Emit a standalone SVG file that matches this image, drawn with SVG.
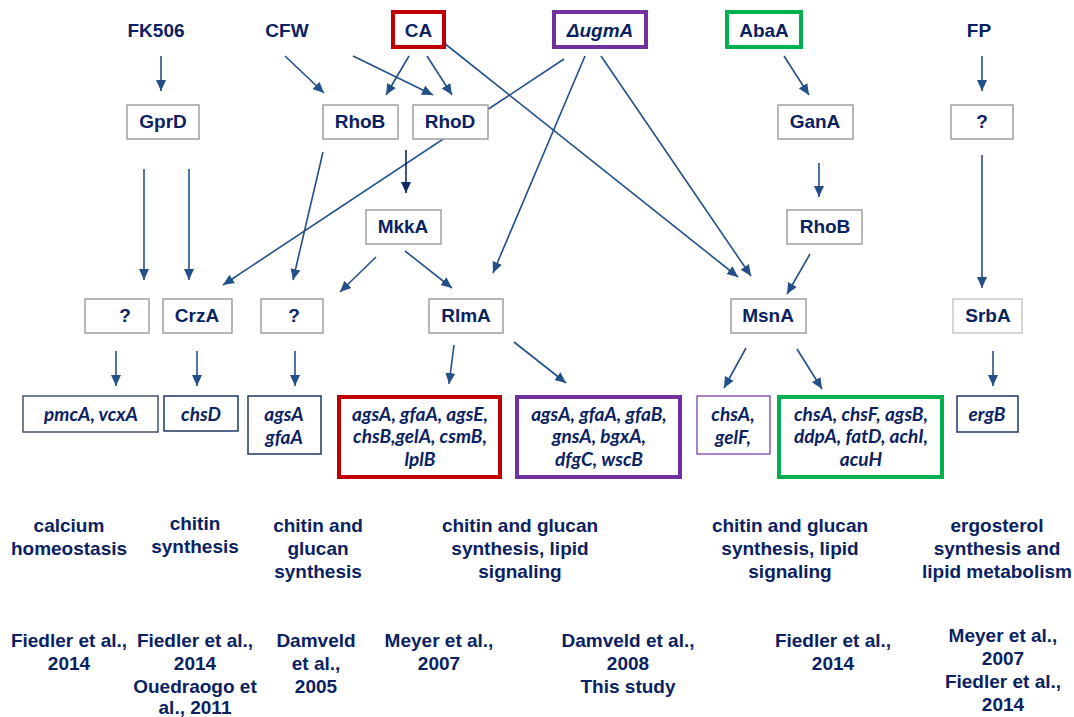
<svg xmlns="http://www.w3.org/2000/svg" width="1074" height="717" viewBox="0 0 1074 717">
<style>
.t{font-family:"Liberation Sans",Arial,sans-serif;font-weight:bold;font-size:19px;fill:#0b2262;text-anchor:middle}
.g{font-family:Lato,"Liberation Sans",sans-serif;font-weight:bold;font-style:italic;font-size:19px;fill:#0b2262;text-anchor:middle}
.gb{fill:#fff;stroke:#a0a0a0;stroke-width:1.5}
.nb{fill:#fff;stroke:#1f3864;stroke-width:1.5}
.a{stroke:#24508a;stroke-width:1.6;fill:none;marker-end:url(#ah)}
.ad{stroke:#0d2a66;stroke-width:1.6;fill:none;marker-end:url(#ahd)}
</style>
<defs>
<marker id="ah" markerUnits="userSpaceOnUse" markerWidth="12" markerHeight="12" refX="11" refY="5" orient="auto" viewBox="0 0 12 10"><path d="M0,0 L11,5 L0,10 z" fill="#24508a"/></marker>
<marker id="ahd" markerUnits="userSpaceOnUse" markerWidth="12" markerHeight="12" refX="11" refY="5" orient="auto" viewBox="0 0 12 10"><path d="M0,0 L11,5 L0,10 z" fill="#0d2a66"/></marker>
</defs>
<rect width="1074" height="717" fill="#fff"/>
<g id="connectors">
<line class="a" x1="161" y1="56" x2="161" y2="91"/>
<line class="a" x1="285" y1="56" x2="324" y2="93"/>
<line class="a" x1="353" y1="56" x2="433" y2="95"/>
<line class="a" x1="409" y1="56" x2="386" y2="95"/>
<line class="a" x1="427" y1="56" x2="452" y2="95"/>
<line class="a" x1="444" y1="43" x2="738" y2="277"/>
<line class="a" x1="601" y1="56" x2="751" y2="276"/>
<line class="a" x1="564" y1="59" x2="223" y2="285"/>
<line class="a" x1="585" y1="56" x2="493" y2="273"/>
<line class="a" x1="323" y1="152" x2="293" y2="280"/>
<line class="ad" x1="406" y1="150" x2="406" y2="193"/>
<line class="a" x1="144" y1="169" x2="144" y2="280"/>
<line class="a" x1="189" y1="169" x2="189" y2="280"/>
<line class="a" x1="376" y1="257" x2="340" y2="292"/>
<line class="a" x1="405" y1="251" x2="452" y2="288"/>
<line class="a" x1="810" y1="254" x2="787" y2="294"/>
<line class="a" x1="819" y1="163" x2="819" y2="197"/>
<line class="a" x1="784" y1="56" x2="809" y2="95"/>
<line class="a" x1="982" y1="56" x2="982" y2="91"/>
<line class="a" x1="982" y1="155" x2="982" y2="288"/>
<line class="a" x1="116" y1="351" x2="116" y2="386"/>
<line class="a" x1="197" y1="351" x2="197" y2="386"/>
<line class="a" x1="295" y1="351" x2="295" y2="386"/>
<line class="a" x1="454" y1="345" x2="449" y2="384"/>
<line class="a" x1="514" y1="342" x2="566" y2="383"/>
<line class="a" x1="746" y1="348" x2="724" y2="388"/>
<line class="a" x1="797" y1="349" x2="822" y2="389"/>
<line class="a" x1="993" y1="351" x2="993" y2="386"/>
</g>
<g id="FK506"><text class="t" x="156" y="37">FK506</text></g>
<g id="CFW"><text class="t" x="287" y="37">CFW</text></g>
<g id="CA"><rect x="393" y="12" width="51" height="35" fill="#fff" stroke="#c00000" stroke-width="4"/><text class="t" x="418.5" y="37">CA</text></g>
<g id="ugmA"><rect x="554" y="12" width="92" height="35" fill="#fff" stroke="#7030a0" stroke-width="4"/><text class="t" x="600" y="37" font-style="italic">ΔugmA</text></g>
<g id="AbaA"><rect x="727" y="12" width="74" height="35" fill="#fff" stroke="#00b050" stroke-width="4"/><text class="t" x="764" y="37">AbaA</text></g>
<g id="FP"><text class="t" x="979" y="37">FP</text></g>
<g id="GprD"><rect class="gb" x="127" y="105" width="72" height="34"/><text class="t" x="163" y="128">GprD</text></g>
<g id="RhoB"><rect class="gb" x="323" y="105" width="75" height="34"/><text class="t" x="360" y="128">RhoB</text></g>
<g id="RhoD"><rect class="gb" x="413" y="105" width="75" height="34"/><text class="t" x="450" y="128">RhoD</text></g>
<g id="GanA"><rect class="gb" x="778" y="105" width="75" height="34"/><text class="t" x="815" y="128">GanA</text></g>
<g id="Q3"><rect class="gb" x="951" y="105" width="62" height="34"/><text class="t" x="982" y="128">?</text></g>
<g id="MkkA"><rect class="gb" x="366" y="210" width="75" height="34"/><text class="t" x="403" y="233">MkkA</text></g>
<g id="RhoB2"><rect class="gb" x="787" y="210" width="75" height="34"/><text class="t" x="825" y="233">RhoB</text></g>
<g id="Q1"><rect class="gb" x="85" y="299" width="64" height="34"/><text class="t" x="125" y="322">?</text></g>
<g id="CrzA"><rect class="gb" x="163" y="299" width="69" height="34"/><text class="t" x="197" y="322">CrzA</text></g>
<g id="Q2"><rect class="gb" x="261" y="299" width="62" height="34"/><text class="t" x="294" y="322">?</text></g>
<g id="RlmA"><rect class="gb" x="429" y="299" width="74" height="34"/><text class="t" x="466" y="322">RlmA</text></g>
<g id="MsnA"><rect class="gb" x="731" y="299" width="75" height="34"/><text class="t" x="768" y="322">MsnA</text></g>
<g id="SrbA"><rect x="953" y="299" width="69" height="34" fill="#fff" stroke="#c8c8c8" stroke-width="1.5"/><text class="t" x="988" y="322">SrbA</text></g>
<g id="pmcA"><rect x="23" y="396" width="135" height="36" fill="#fff" stroke="#44546a" stroke-width="1.5"/><text class="g" x="91" y="421">pmcA, vcxA</text></g>
<g id="chsD"><rect class="nb" x="164" y="396" width="74" height="35"/><text class="g" x="201" y="421">chsD</text></g>
<g id="agsA1"><rect class="nb" x="248" y="396" width="73" height="58"/><text class="g" x="284" y="421">agsA</text><text class="g" x="284" y="444">gfaA</text></g>
<g id="redGenes"><rect x="339" y="397" width="161" height="80" fill="#fff" stroke="#c00000" stroke-width="4"/><text class="g" x="420" y="421">agsA, gfaA, agsE,</text><text class="g" x="420" y="443">chsB,gelA, csmB,</text><text class="g" x="420" y="466">lplB</text></g>
<g id="purpleGenes"><rect x="517" y="397" width="163" height="80" fill="#fff" stroke="#7030a0" stroke-width="4"/><text class="g" x="599" y="421">agsA, gfaA, gfaB,</text><text class="g" x="599" y="443">gnsA, bgxA,</text><text class="g" x="599" y="466">dfgC, wscB</text></g>
<g id="chsA"><rect x="697" y="396" width="73" height="58" fill="#fff" stroke="#7030a0" stroke-width="1.2"/><text class="g" x="733" y="421">chsA,</text><text class="g" x="733" y="444">gelF,</text></g>
<g id="greenGenes"><rect x="779" y="397" width="163" height="80" fill="#fff" stroke="#00b050" stroke-width="4"/><text class="g" x="861" y="421">chsA, chsF, agsB,</text><text class="g" x="861" y="443">ddpA, fatD, achI,</text><text class="g" x="861" y="466">acuH</text></g>
<g id="ergB"><rect x="957" y="396" width="61" height="36" fill="#fff" stroke="#1f3864" stroke-width="1.5"/><text class="g" x="987" y="421">ergB</text></g>
<g id="functions">
<text class="t" x="69" y="532">calcium</text><text class="t" x="69" y="555">homeostasis</text>
<text class="t" x="195" y="530">chitin</text><text class="t" x="195" y="553">synthesis</text>
<text class="t" x="318" y="532">chitin and</text><text class="t" x="318" y="555">glucan</text><text class="t" x="318" y="578">synthesis</text>
<text class="t" x="520" y="532">chitin and glucan</text><text class="t" x="520" y="555">synthesis, lipid</text><text class="t" x="520" y="578">signaling</text>
<text class="t" x="790" y="532">chitin and glucan</text><text class="t" x="790" y="555">synthesis, lipid</text><text class="t" x="790" y="578">signaling</text>
<text class="t" x="997" y="532">ergosterol</text><text class="t" x="997" y="555">synthesis and</text><text class="t" x="997" y="578">lipid metabolism</text>
</g>
<g id="references">
<text class="t" x="69" y="647">Fiedler et al.,</text><text class="t" x="69" y="670">2014</text>
<text class="t" x="195" y="647">Fiedler et al.,</text><text class="t" x="195" y="670">2014</text><text class="t" x="195" y="693">Ouedraogo et</text><text class="t" x="195" y="714">al., 2011</text>
<text class="t" x="316" y="647">Damveld</text><text class="t" x="316" y="670">et al.,</text><text class="t" x="316" y="693">2005</text>
<text class="t" x="439" y="647">Meyer et al.,</text><text class="t" x="439" y="670">2007</text>
<text class="t" x="628" y="647">Damveld et al.,</text><text class="t" x="628" y="670">2008</text><text class="t" x="628" y="693">This study</text>
<text class="t" x="833" y="647">Fiedler et al.,</text><text class="t" x="833" y="670">2014</text>
<text class="t" x="1003" y="642">Meyer et al.,</text><text class="t" x="1003" y="665">2007</text><text class="t" x="1003" y="688">Fiedler et al.,</text><text class="t" x="1003" y="711">2014</text>
</g>
</svg>
